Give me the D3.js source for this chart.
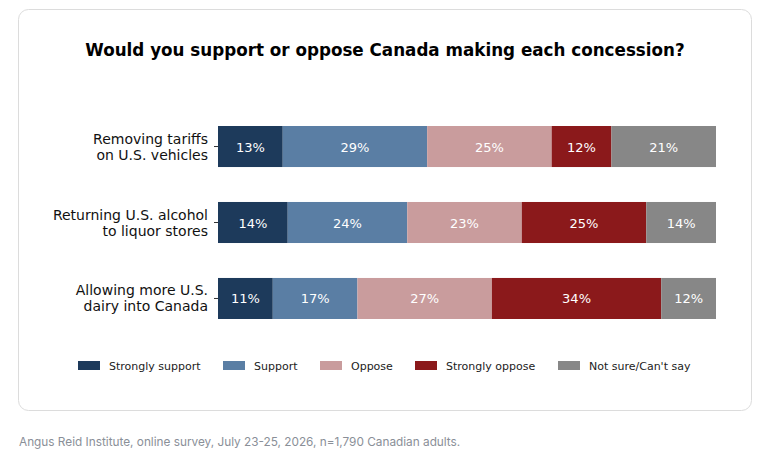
<!DOCTYPE html>
<html><head><meta charset="utf-8">
<script src="https://cdn.jsdelivr.net/npm/d3@7"></script>
<style>
body{margin:0;background:#fff;font-family:"DejaVu Sans",sans-serif;}
</style></head>
<body><svg id="chart" width="762" height="471"></svg>
<script>
// 数据
const categories = ["Removing tariffs\non U.S. vehicles", "Returning U.S. alcohol\nto liquor stores", "Allowing more U.S.\ndairy into Canada"];
const seriesNames = ["Strongly support", "Support", "Oppose", "Strongly oppose", "Not sure/Can't say"];
const stronglySupport = [13, 14, 11];
const support = [29, 24, 17];
const oppose = [25, 23, 27];
const stronglyOppose = [12, 25, 34];
const notSure = [21, 14, 12];
const colors = ["#1d3a5b", "#5a7ea4", "#c99c9d", "#8b191b", "#878787"];

const svg = d3.select("#chart");
svg.append("rect").attr("x", 18.5).attr("y", 9.5).attr("width", 733).attr("height", 401)
  .attr("rx", 10).attr("fill", "#fff").attr("stroke", "#dcdcdc");

svg.append("text").attr("x", 385).attr("y", 56).attr("text-anchor", "middle")
  .attr("font-size", 16.75).attr("font-weight", "bold").text("Would you support or oppose Canada making each concession?");

const x = d3.scaleLinear().domain([0, 100]).range([218, 716]).clamp(true);
const y = d3.scaleBand().domain(d3.range(categories.length)).range([126, 319]).paddingInner(0.46).paddingOuter(0);

const series = [stronglySupport, support, oppose, stronglyOppose, notSure];
const rows = categories.map((c, i) => {
  let acc = 0;
  return series.map((s, k) => { const d = {i, k, x0: acc, v: s[i]}; acc += s[i]; return d; });
});

const g = svg.append("g");
rows.forEach(r => {
  g.selectAll(null).data(r).enter().append("rect")
    .attr("x", d => x(d.x0)).attr("y", d => y(d.i))
    .attr("width", d => x(d.x0 + d.v) - x(d.x0)).attr("height", y.bandwidth())
    .attr("fill", d => colors[d.k]);
  g.selectAll(null).data(r).enter().append("text")
    .attr("x", d => (x(d.x0) + x(d.x0 + d.v)) / 2).attr("y", d => y(d.i) + y.bandwidth() / 2 + 5)
    .attr("text-anchor", "middle").attr("font-size", 13).attr("fill", "#fff")
    .text(d => d.v + "%");
});

const ya = svg.append("g").attr("transform", "translate(218,0)")
  .call(d3.axisLeft(y).tickSize(4).tickFormat(""));
ya.select(".domain").remove();
ya.selectAll("line").attr("stroke", "#333");
categories.forEach((c, i) => {
  const t = svg.append("text").attr("text-anchor", "end").attr("font-size", 14).attr("fill", "#111");
  c.split("\n").forEach((l, j) => t.append("tspan").attr("x", 208)
    .attr("y", y(i) + y.bandwidth() / 2 + (j === 0 ? -3 : 13)).text(l));
});

// 图例
const legendX = [78, 223, 320, 415, 558];
seriesNames.forEach((n, k) => {
  svg.append("rect").attr("x", legendX[k]).attr("y", 361).attr("width", 22).attr("height", 9).attr("fill", colors[k]);
  svg.append("text").attr("x", legendX[k] + 31).attr("y", 370).attr("font-size", 11).attr("fill", "#222").text(n);
});

svg.append("text").attr("x", 19).attr("y", 446).attr("font-size", 11.8).attr("fill", "#8a8f98")
  .attr("font-family", "Inter, sans-serif")
  .text("Angus Reid Institute, online survey, July 23-25, 2026, n=1,790 Canadian adults.");
</script></body></html>
